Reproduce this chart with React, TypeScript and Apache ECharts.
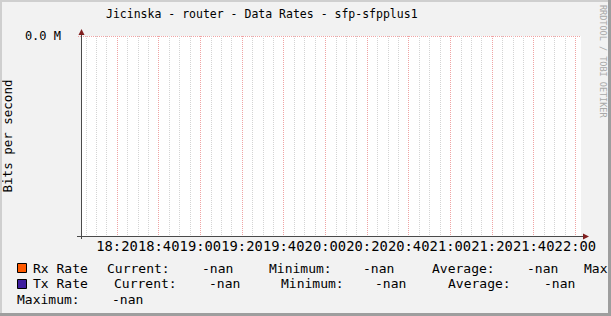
import { useEffect, useRef } from "react";
import * as echarts from "echarts";

const MONO = "'DejaVu Sans Mono', 'Liberation Mono', monospace";

const TITLE = "Jicinska - router - Data Rates - sfp-sfpplus1";
const Y_AXIS_NAME = "Bits per second";
const WATERMARK = "RRDTOOL / TOBI OETIKER";

// Four-hour window on the time axis (hh:mm:ss)
const WINDOW_START = "18:02:43";
const WINDOW_END = "22:02:43";

// Labelled time ticks (major grid, every 20 minutes)
const majorTimeTicks = [
  "18:20", "18:40", "19:00", "19:20", "19:40", "20:00",
  "20:20", "20:40", "21:00", "21:20", "21:40", "22:00",
];
// Unlabelled minor grid spacing, in minutes
const MINOR_STEP_MIN = 5;

// Value axis: one labelled gridline at zero (bits per second)
const yTickValues = [0];
const Y_MIN = -1e6;
const Y_MAX = 0;

// Samples as [minute of day, bits per second]; the interface reported nothing in this window
const rxRate: [number, number][] = [];
const txRate: [number, number][] = [];

const RX_COLOR = "#ff5a00";
const TX_COLOR = "#3f1fa0";

// Layout of the plotting canvas
const GRID = { left: 81, top: 36, width: 500, height: 200 };
const W = 611;
const H = 316;

const MAJOR_GRID = "#f0a4a4";
const MINOR_GRID = "#d4d4d4";

const toMinutes = (s: string) => {
  const [h, m, sec] = s.split(":").map(Number);
  return h * 60 + m + (sec || 0) / 60;
};
const pad2 = (n: number) => String(n).padStart(2, "0");
const fmtClock = (mins: number) => {
  const r = Math.round(mins);
  return `${pad2(Math.floor(r / 60))}:${pad2(r % 60)}`;
};

const X_MIN = toMinutes(WINDOW_START);
const X_MAX = toMinutes(WINDOW_END);
const majorValues = majorTimeTicks.map(toMinutes);
const minorValues: number[] = [];
for (let t = Math.ceil(X_MIN / MINOR_STEP_MIN) * MINOR_STEP_MIN; t <= X_MAX; t += MINOR_STEP_MIN) {
  if (!majorValues.includes(t)) minorValues.push(t);
}

type Stats = { current: number; minimum: number; average: number; maximum: number };
const stats = (data: [number, number][]): Stats => {
  const vals = data.map((d) => d[1]).filter((v) => Number.isFinite(v));
  if (!vals.length) return { current: NaN, minimum: NaN, average: NaN, maximum: NaN };
  return {
    current: vals[vals.length - 1],
    minimum: Math.min(...vals),
    average: vals.reduce((a, b) => a + b, 0) / vals.length,
    maximum: Math.max(...vals),
  };
};
const fmtRate = (v: number) => (Number.isFinite(v) ? `${(v / 1e6).toFixed(2)} M` : "-nan");

export default function App() {
  const ref = useRef<HTMLDivElement>(null);

  useEffect(() => {
    if (!ref.current) return;
    const chart = echarts.init(ref.current, undefined, { renderer: "svg" });

    const rx = stats(rxRate);
    const tx = stats(txRate);

    const txt = (text: string, x: number, y: number, extra: any = {}) => ({
      type: "text",
      x,
      y,
      z: 10,
      style: {
        text,
        fill: "#000",
        font: `13px ${MONO}`,
        textAlign: "left",
        textVerticalAlign: "middle",
        ...extra,
      },
    });

    const rowY = [268.5, 283.5, 299.5];
    const legend: any[] = [
      // Rx row
      { type: "rect", z: 10, shape: { x: 17.5, y: 263.5, width: 9, height: 9 }, style: { fill: RX_COLOR, stroke: "#000", lineWidth: 1 } },
      txt("Rx Rate", 33, rowY[0]),
      txt("Current:", 107, rowY[0]),
      txt(fmtRate(rx.current), 202, rowY[0]),
      txt("Minimum:", 269, rowY[0]),
      txt(fmtRate(rx.minimum), 363, rowY[0]),
      txt("Average:", 432, rowY[0]),
      txt(fmtRate(rx.average), 527, rowY[0]),
      txt("Maximum:", 584, rowY[0]),
      // Tx row
      { type: "rect", z: 10, shape: { x: 17.5, y: 279.5, width: 9, height: 9 }, style: { fill: TX_COLOR, stroke: "#000", lineWidth: 1 } },
      txt("Tx Rate", 33, rowY[1]),
      txt("Current:", 114, rowY[1]),
      txt(fmtRate(tx.current), 209, rowY[1]),
      txt("Minimum:", 281, rowY[1]),
      txt(fmtRate(tx.minimum), 375, rowY[1]),
      txt("Average:", 448, rowY[1]),
      txt(fmtRate(tx.average), 544, rowY[1]),
      txt("Maximum:", 17, rowY[2]),
      txt(fmtRate(tx.maximum), 112, rowY[2]),
    ];

    const x0 = GRID.left;
    const y0 = GRID.top + GRID.height;
    const x1 = GRID.left + GRID.width;
    const y1 = GRID.top;
    const AXIS = "#4a4a4a";
    const ARROW = "#801f1f";

    const axesDecor: any[] = [
      // short overhangs of the axis lines past the origin and the far end
      { type: "line", z: 5, shape: { x1: x0 - 4, y1: y0 + 0.5, x2: x0, y2: y0 + 0.5 }, style: { stroke: AXIS, lineWidth: 1 } },
      { type: "line", z: 5, shape: { x1: x1, y1: y0 + 0.5, x2: x1 + 2, y2: y0 + 0.5 }, style: { stroke: AXIS, lineWidth: 1 } },
      { type: "line", z: 5, shape: { x1: x0 + 0.5, y1: y0, x2: x0 + 0.5, y2: y0 + 3 }, style: { stroke: AXIS, lineWidth: 1 } },
      { type: "line", z: 5, shape: { x1: x0 + 0.5, y1: y1, x2: x0 + 0.5, y2: y1 - 2 }, style: { stroke: AXIS, lineWidth: 1 } },
      // top gridline runs a little past the value axis
      { type: "line", z: 4, shape: { x1: x0 - 3, y1: y1 + 0.5, x2: x0, y2: y1 + 0.5 }, style: { stroke: MAJOR_GRID, lineWidth: 1, lineDash: [1, 1] } },
      // arrow heads
      { type: "polygon", z: 6, shape: { points: [[x1 + 2, y0 - 2.5], [x1 + 8, y0 + 0.5], [x1 + 2, y0 + 3.5]] }, style: { fill: ARROW } },
      { type: "polygon", z: 6, shape: { points: [[x0 - 2.5, y1 - 1], [x0 + 0.5, y1 - 7], [x0 + 3.5, y1 - 1]] }, style: { fill: ARROW } },
    ];

    const frame: any[] = [
      { type: "rect", z: 20, shape: { x: 0, y: 0, width: W, height: 2 }, style: { fill: "#cfcfcf" } },
      { type: "rect", z: 20, shape: { x: 0, y: 0, width: 2, height: H }, style: { fill: "#cfcfcf" } },
      { type: "rect", z: 21, shape: { x: W - 3, y: 0, width: 3, height: H }, style: { fill: "#9e9e9e" } },
      { type: "rect", z: 21, shape: { x: 0, y: H - 3, width: W, height: 3 }, style: { fill: "#9e9e9e" } },
    ];

    chart.setOption({
      animation: false,
      backgroundColor: "#f2f2f2",
      grid: {
        left: GRID.left,
        top: GRID.top,
        width: GRID.width,
        height: GRID.height,
        show: true,
        backgroundColor: "#ffffff",
        borderWidth: 0,
        containLabel: false,
        outerBoundsMode: "none",
      },
      xAxis: [
        {
          type: "value",
          min: X_MIN,
          max: X_MAX,
          position: "bottom",
          axisLine: { show: true, onZero: false, lineStyle: { color: AXIS, width: 1 } },
          axisTick: { show: false, customValues: majorValues },
          axisLabel: {
            show: true,
            interval: 0,
            customValues: majorValues,
            formatter: (v: number) => fmtClock(v),
            fontFamily: MONO,
            fontSize: 13.8,
            color: "#000",
            margin: 3,
            hideOverlap: false,
            showMinLabel: true,
            showMaxLabel: true,
          },
          splitLine: {
            show: true,
            lineStyle: { color: MAJOR_GRID, width: 1, type: [1, 1] },
          },
          z: 3,
        },
        {
          type: "value",
          min: X_MIN,
          max: X_MAX,
          position: "bottom",
          axisLine: { show: false },
          axisTick: { show: false, customValues: minorValues },
          axisLabel: { show: false },
          splitLine: {
            show: true,
            lineStyle: { color: MINOR_GRID, width: 1, type: [1, 1] },
          },
          z: 2,
        },
      ],
      yAxis: {
        type: "value",
        min: Y_MIN,
        max: Y_MAX,
        name: Y_AXIS_NAME,
        nameLocation: "middle",
        nameRotate: 90,
        nameGap: 58,
        nameTextStyle: { fontFamily: MONO, fontSize: 12.5, color: "#000" },
        axisLine: { show: true, onZero: false, lineStyle: { color: AXIS, width: 1 } },
        axisTick: { show: false, customValues: yTickValues },
        axisLabel: {
          customValues: yTickValues,
          formatter: (v: number) => `${(v / 1e6).toFixed(1)} M`,
          fontFamily: MONO,
          fontSize: 12,
          color: "#000",
          margin: 20,
        },
        splitLine: {
          show: true,
          lineStyle: { color: MAJOR_GRID, width: 1, type: [1, 1] },
        },
      },
      series: [
        { name: "Rx Rate", type: "line", xAxisIndex: 0, data: rxRate, showSymbol: false, lineStyle: { color: RX_COLOR }, itemStyle: { color: RX_COLOR } },
        { name: "Tx Rate", type: "line", xAxisIndex: 0, data: txRate, showSymbol: false, lineStyle: { color: TX_COLOR }, itemStyle: { color: TX_COLOR } },
      ],
      graphic: [
        txt(TITLE, 106, 14, { font: `11.5px ${MONO}` }),
        {
          type: "text",
          x: 603,
          y: 5,
          rotation: -Math.PI / 2,
          z: 10,
          style: {
            text: WATERMARK,
            fill: "#a8a8a8",
            font: `8.5px ${MONO}`,
            textAlign: "left",
            textVerticalAlign: "middle",
          },
        },
        ...axesDecor,
        ...legend,
        ...frame,
      ],
    });

    return () => chart.dispose();
  }, []);

  return (
    <div
      ref={ref}
      style={{ position: "absolute", left: 0, top: 0, width: W, height: H }}
    />
  );
}
